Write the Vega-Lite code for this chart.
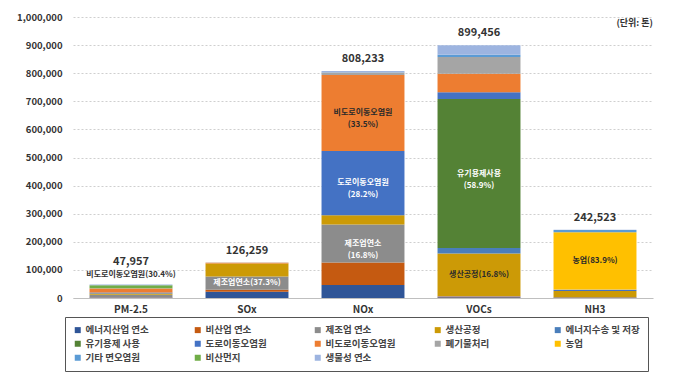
{
  "$schema": "https://vega.github.io/schema/vega-lite/v6.json",
  "width": 580,
  "height": 281,
  "autosize": {"type": "none"},
  "padding": {"left": 73, "top": 17, "right": 27, "bottom": 77},
  "background": "white",
  "config": {
    "font": "Noto Sans CJK KR",
    "view": {"stroke": null},
    "axisX": {"labelAngle": 0, "domainColor": "#bfbfbf", "ticks": false, "labelFontWeight": "bold", "labelFontSize": 10, "labelColor": "#333", "labelPadding": 6},
    "axisY": {"domain": false, "ticks": false, "grid": true, "gridDash": [2, 2], "gridColor": "#cfcfcf", "labelPadding": 11, "labelFontSize": 9.5, "labelFontWeight": "bold", "labelColor": "#333", "labelExpr": "format(datum.value, ',')"}
  },
  "title": {"text": "(단위: 톤)", "anchor": "end", "orient": "top", "frame": "group", "offset": -16, "fontSize": 9, "fontWeight": "bold", "color": "#333"},
  "data": {"values": [
    {"cat": "PM-2.5", "source": "에너지산업 연소", "value": 1500},
    {"cat": "PM-2.5", "source": "비산업 연소", "value": 1000},
    {"cat": "PM-2.5", "source": "제조업 연소", "value": 8978},
    {"cat": "PM-2.5", "source": "생산공정", "value": 4500},
    {"cat": "PM-2.5", "source": "도로이동오염원", "value": 3500},
    {"cat": "PM-2.5", "source": "비도로이동오염원", "value": 14579, "label": "비도로이동오염원(30.4%)"},
    {"cat": "PM-2.5", "source": "폐기물처리", "value": 200},
    {"cat": "PM-2.5", "source": "기타 면오염원", "value": 700},
    {"cat": "PM-2.5", "source": "비산먼지", "value": 10000},
    {"cat": "PM-2.5", "source": "생물성 연소", "value": 3000},
    {"cat": "SOx", "source": "에너지산업 연소", "value": 22000},
    {"cat": "SOx", "source": "비산업 연소", "value": 7500},
    {"cat": "SOx", "source": "제조업 연소", "value": 47095, "label": "제조업연소(37.3%)"},
    {"cat": "SOx", "source": "생산공정", "value": 46000},
    {"cat": "SOx", "source": "도로이동오염원", "value": 300},
    {"cat": "SOx", "source": "비도로이동오염원", "value": 2500},
    {"cat": "SOx", "source": "폐기물처리", "value": 700},
    {"cat": "SOx", "source": "생물성 연소", "value": 164},
    {"cat": "NOx", "source": "에너지산업 연소", "value": 46000},
    {"cat": "NOx", "source": "비산업 연소", "value": 80000},
    {"cat": "NOx", "source": "제조업 연소", "value": 135783, "label": "제조업연소\n(16.8%)"},
    {"cat": "NOx", "source": "생산공정", "value": 33000},
    {"cat": "NOx", "source": "도로이동오염원", "value": 227922, "label": "도로이동오염원\n(28.2%)"},
    {"cat": "NOx", "source": "비도로이동오염원", "value": 270758, "label": "비도로이동오염원\n(33.5%)"},
    {"cat": "NOx", "source": "폐기물처리", "value": 9000},
    {"cat": "NOx", "source": "기타 면오염원", "value": 1000},
    {"cat": "NOx", "source": "생물성 연소", "value": 4770},
    {"cat": "VOCs", "source": "에너지산업 연소", "value": 3000},
    {"cat": "VOCs", "source": "비산업 연소", "value": 2500},
    {"cat": "VOCs", "source": "제조업 연소", "value": 1500},
    {"cat": "VOCs", "source": "생산공정", "value": 151109, "label": "생산공정(16.8%)"},
    {"cat": "VOCs", "source": "에너지수송 및 저장", "value": 20000},
    {"cat": "VOCs", "source": "유기용제 사용", "value": 529780, "label": "유기용제사용\n(58.9%)"},
    {"cat": "VOCs", "source": "도로이동오염원", "value": 24000},
    {"cat": "VOCs", "source": "비도로이동오염원", "value": 66000},
    {"cat": "VOCs", "source": "폐기물처리", "value": 60000},
    {"cat": "VOCs", "source": "기타 면오염원", "value": 7567},
    {"cat": "VOCs", "source": "생물성 연소", "value": 34000},
    {"cat": "NH3", "source": "에너지산업 연소", "value": 1500},
    {"cat": "NH3", "source": "비산업 연소", "value": 1000},
    {"cat": "NH3", "source": "제조업 연소", "value": 500},
    {"cat": "NH3", "source": "생산공정", "value": 22000},
    {"cat": "NH3", "source": "도로이동오염원", "value": 3500},
    {"cat": "NH3", "source": "비도로이동오염원", "value": 200},
    {"cat": "NH3", "source": "폐기물처리", "value": 1500},
    {"cat": "NH3", "source": "농업", "value": 203477, "label": "농업(83.9%)"},
    {"cat": "NH3", "source": "기타 면오염원", "value": 8000},
    {"cat": "NH3", "source": "생물성 연소", "value": 846}
  ]},
  "transform": [
    {"calculate": "indexof(['에너지산업 연소','비산업 연소','제조업 연소','생산공정','에너지수송 및 저장','유기용제 사용','도로이동오염원','비도로이동오염원','폐기물처리','농업','기타 면오염원','비산먼지','생물성 연소'], datum.source)", "as": "ord"}
  ],
  "encoding": {
    "x": {"field": "cat", "type": "nominal", "title": null, "sort": ["PM-2.5", "SOx", "NOx", "VOCs", "NH3"], "scale": {"paddingInner": 0.285, "paddingOuter": 0.1425}}
  },
  "layer": [
    {
      "mark": {"type": "bar"},
      "encoding": {
        "y": {"field": "value", "type": "quantitative", "stack": "zero", "title": null, "scale": {"domain": [0, 1000000], "nice": false}, "axis": {"values": [0, 100000, 200000, 300000, 400000, 500000, 600000, 700000, 800000, 900000, 1000000]}},
        "order": {"field": "ord", "type": "quantitative", "sort": "ascending"},
        "color": {
          "field": "source", "type": "nominal",
          "scale": {
            "domain": ["에너지산업 연소", "비산업 연소", "제조업 연소", "생산공정", "에너지수송 및 저장", "유기용제 사용", "도로이동오염원", "비도로이동오염원", "폐기물처리", "농업", "기타 면오염원", "비산먼지", "생물성 연소"],
            "range": ["#2F5597", "#C55A11", "#8C8C8C", "#CC9A06", "#4A7EBB", "#548235", "#4472C4", "#ED7D31", "#A5A5A5", "#FFC000", "#5B9BD5", "#70AD47", "#9DB4E0"]
          },
          "legend": {"orient": "none", "legendX": -8, "legendY": 300, "direction": "horizontal", "columns": 5, "title": null, "symbolType": "square", "symbolSize": 36, "symbolStrokeWidth": 0, "labelFontSize": 9.5, "labelFontWeight": "bold", "labelColor": "#444", "strokeColor": "#555", "padding": 8, "columnPadding": 33, "rowPadding": 3, "gridAlign": "all", "labelOffset": 3}
        }
      }
    },
    {
      "transform": [
        {"stack": "value", "groupby": ["cat"], "sort": [{"field": "ord", "order": "ascending"}], "as": ["v0", "v1"]},
        {"calculate": "(datum.v0 + datum.v1) / 2", "as": "mid"},
        {"filter": "datum.label != null && datum.cat != 'PM-2.5'"}
      ],
      "mark": {"type": "text", "fontSize": 8, "fontWeight": "bold", "lineBreak": "\n", "lineHeight": 12, "baseline": "middle"},
      "encoding": {
        "y": {"field": "mid", "type": "quantitative", "title": null, "axis": {"values": [0, 100000, 200000, 300000, 400000, 500000, 600000, 700000, 800000, 900000, 1000000]}},
        "text": {"field": "label"},
        "color": {"condition": {"test": "indexof(['비도로이동오염원','생산공정','농업'], datum.source) >= 0", "value": "#2a2a2a"}, "value": "white"}
      }
    },
    {
      "transform": [
        {"aggregate": [{"op": "sum", "field": "value", "as": "total"}], "groupby": ["cat"]},
        {"filter": "datum.cat != 'PM-2.5'"}
      ],
      "mark": {"type": "text", "fontSize": 11, "fontWeight": "bold", "color": "#333", "baseline": "middle", "dy": -12},
      "encoding": {
        "y": {"field": "total", "type": "quantitative", "title": null, "axis": {"values": [0, 100000, 200000, 300000, 400000, 500000, 600000, 700000, 800000, 900000, 1000000]}},
        "text": {"field": "total", "type": "quantitative", "format": ","}
      }
    },
    {
      "transform": [
        {"aggregate": [{"op": "sum", "field": "value", "as": "total"}], "groupby": ["cat"]},
        {"filter": "datum.cat == 'PM-2.5'"}
      ],
      "mark": {"type": "text", "fontSize": 11, "fontWeight": "bold", "color": "#333", "baseline": "middle", "dy": -23},
      "encoding": {
        "y": {"field": "total", "type": "quantitative", "title": null, "axis": {"values": [0, 100000, 200000, 300000, 400000, 500000, 600000, 700000, 800000, 900000, 1000000]}},
        "text": {"field": "total", "type": "quantitative", "format": ","}
      }
    },
    {
      "transform": [
        {"joinaggregate": [{"op": "sum", "field": "value", "as": "total"}], "groupby": ["cat"]},
        {"filter": "datum.label != null && datum.cat == 'PM-2.5'"}
      ],
      "mark": {"type": "text", "fontSize": 8, "fontWeight": "bold", "color": "#333", "baseline": "middle", "dy": -10},
      "encoding": {
        "y": {"field": "total", "type": "quantitative", "title": null, "axis": {"values": [0, 100000, 200000, 300000, 400000, 500000, 600000, 700000, 800000, 900000, 1000000]}},
        "text": {"field": "label"}
      }
    }
  ]
}
